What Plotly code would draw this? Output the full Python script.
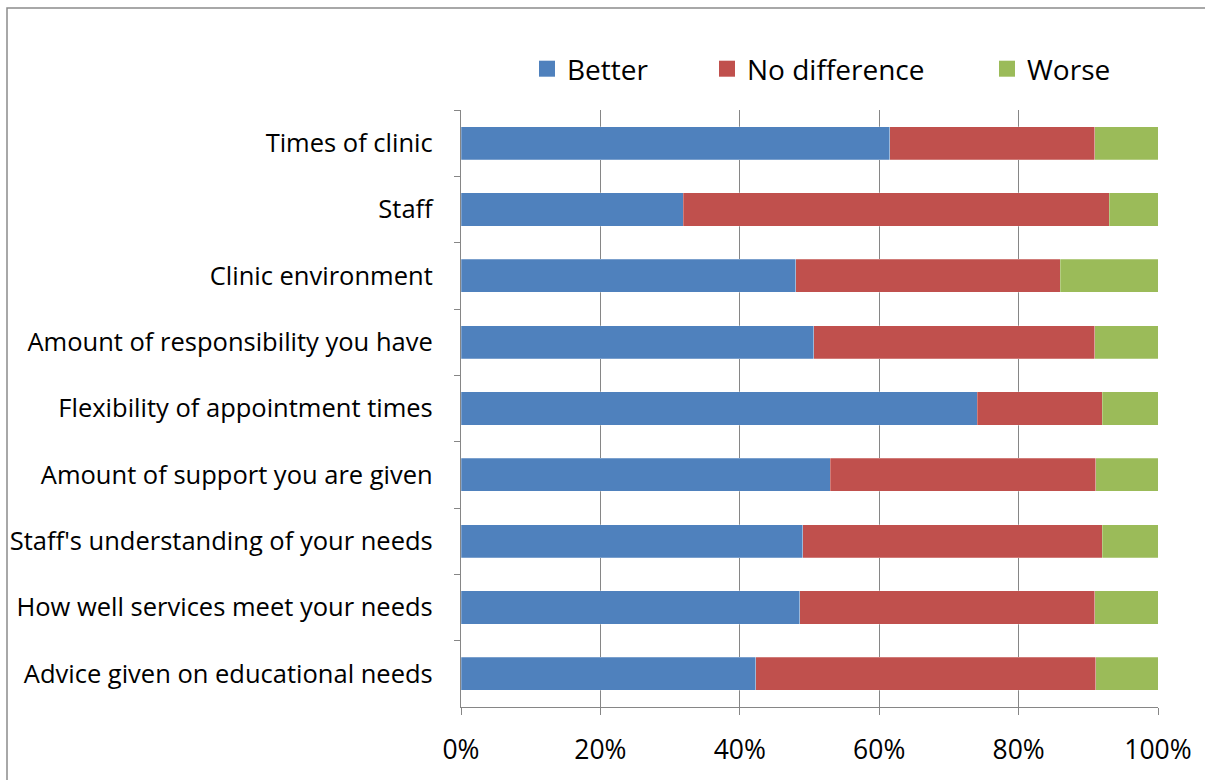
import plotly.graph_objects as go

categories = [
    "Times of clinic",
    "Staff",
    "Clinic environment",
    "Amount of responsibility you have",
    "Flexibility of appointment times",
    "Amount of support you are given",
    "Staff's understanding of your needs",
    "How well services meet your needs",
    "Advice given on educational needs",
]
better = [61.5, 31.9, 48.0, 50.6, 74.1, 53.0, 49.0, 48.6, 42.3]
no_difference = [29.4, 61.1, 38.0, 40.3, 17.9, 38.1, 43.0, 42.3, 48.8]
worse = [9.1, 7.0, 14.0, 9.1, 8.0, 8.9, 8.0, 9.1, 8.9]
x_ticks = [0, 20, 40, 60, 80, 100]
x_tick_labels = ["0%", "20%", "40%", "60%", "80%", "100%"]

series = [
    ("Better", better, "#4F81BD"),
    ("No difference", no_difference, "#C0504D"),
    ("Worse", worse, "#9BBB59"),
]

L, R, T, B = 461, 1158, 110, 707
W, H = 1205, 780
pw, ph = R - L, B - T

def px(x):
    return (x - L) / pw

def py(y):
    return (B - y) / ph

legend_square_x = [549, 729, 1009]
legend_names = ["legend", "legend2", "legend3"]

fig = go.Figure()
for name, vals, color in series:
    fig.add_trace(go.Bar(
        y=categories, x=vals, name=name, orientation="h", showlegend=False,
        marker=dict(color=color, line=dict(color="rgba(255,255,255,0.5)", width=0.5)),
    ))
for (name, vals, color), lg in zip(series, legend_names):
    fig.add_trace(go.Scatter(
        x=[None], y=[None], mode="markers", name=name, legend=lg,
        marker=dict(symbol="square", size=18, color=color),
    ))

legend_font = dict(size=28, family="Open Sans, sans-serif", color="black")
legends = {}
for lg, sx in zip(legend_names, legend_square_x):
    legends[lg] = dict(
        orientation="h", x=px(sx - 22), y=py(69), xanchor="left", yanchor="middle",
        font=legend_font, itemwidth=30, itemsizing="trace", bgcolor="rgba(0,0,0,0)",
    )

fig.update_layout(
    width=W, height=H,
    margin=dict(l=L, r=W - R, t=T, b=H - B, pad=0, autoexpand=False),
    barmode="stack", bargap=0.5,
    paper_bgcolor="white", plot_bgcolor="white",
    font=dict(family="Open Sans, sans-serif", color="black"),
    xaxis=dict(
        range=[0, 100], tickvals=x_ticks, ticktext=x_tick_labels, automargin=False,
        showgrid=True, gridcolor="#868686", gridwidth=1.3,
        showline=True, linecolor="#868686", linewidth=1.3,
        ticks="outside", ticklen=7, tickcolor="#868686", tickwidth=1.3,
        tickfont=dict(size=26.5), ticklabelstandoff=12, zeroline=False,
    ),
    yaxis=dict(
        autorange="reversed", tickson="boundaries", automargin=False,
        showline=True, linecolor="#868686", linewidth=1.3,
        ticks="outside", ticklen=6, tickcolor="#868686", tickwidth=1.3,
        tickfont=dict(size=25.5), ticklabelstandoff=22, showgrid=False,
    ),
    shapes=[dict(
        type="rect", xref="paper", yref="paper",
        x0=px(7), x1=px(1230), y0=py(800), y1=py(8),
        line=dict(color="#8C8C8C", width=1.5), fillcolor="rgba(0,0,0,0)", layer="below",
    )],
    **legends,
)

fig.write_html("out.html")
